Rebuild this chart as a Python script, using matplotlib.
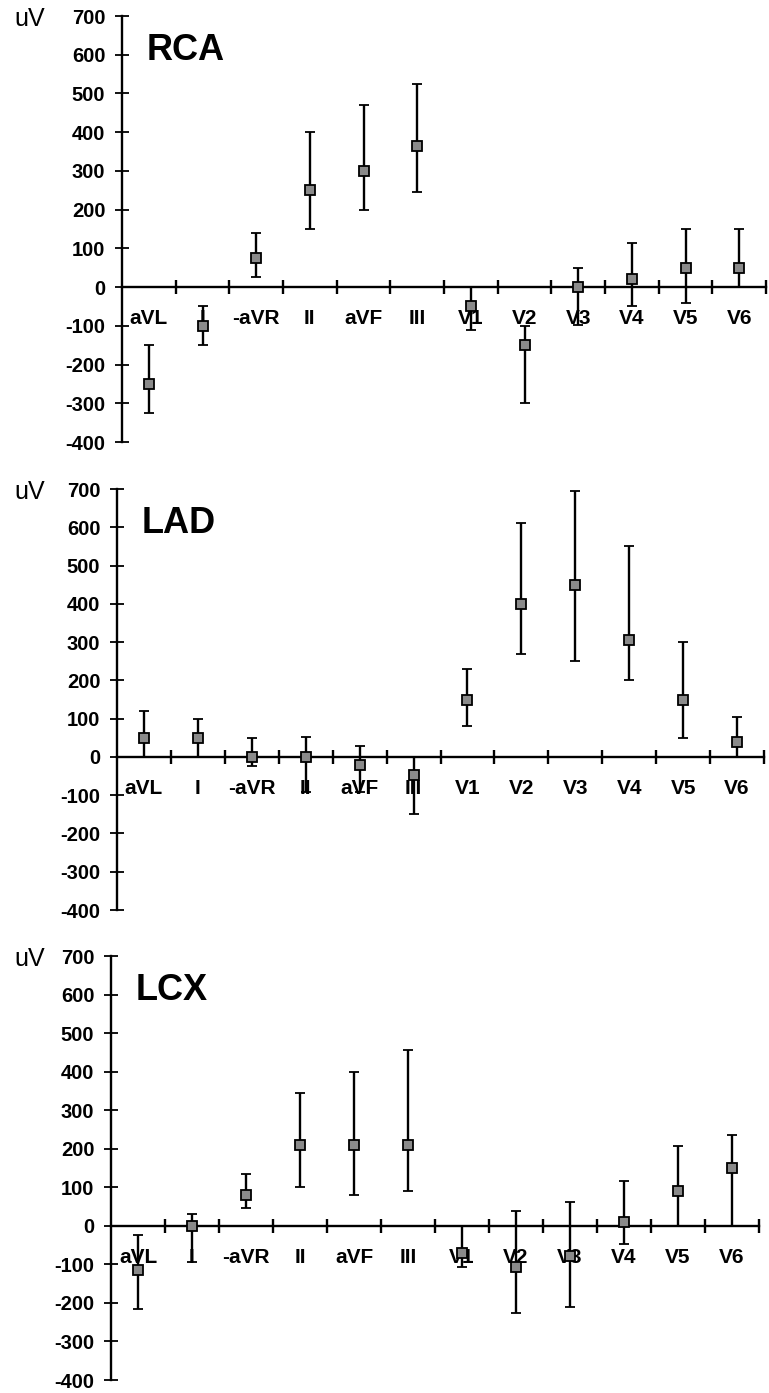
import matplotlib
matplotlib.use('Agg')
import matplotlib.pyplot as plt
import numpy as np

leads = ["aVL", "I", "-aVR", "II", "aVF", "III", "V1", "V2", "V3", "V4", "V5", "V6"]

rca_mean = [-250, -100, 75, 250, 300, 365, -50, -150, 0, 20, 50, 50]
rca_upper = [-150, -50, 140, 400, 470, 525, 0, -100, 50, 115, 150, 150]
rca_lower = [-325, -150, 25, 150, 200, 245, -110, -300, -98, -50, -40, 0]

lad_mean = [50, 50, 0, 0, -22, -48, 150, 400, 450, 305, 150, 40]
lad_upper = [120, 100, 50, 52, 28, 0, 230, 610, 695, 550, 300, 105]
lad_lower = [0, 0, -25, -92, -92, -150, 80, 270, 250, 200, 50, 0]

lcx_mean = [-115, 0, 80, 210, 210, 210, -70, -108, -78, 10, 90, 150]
lcx_upper = [-25, 30, 135, 345, 400, 455, 0, 38, 62, 115, 208, 235]
lcx_lower = [-215, -95, 45, 100, 80, 90, -107, -226, -211, -46, 0, 0]

titles = ["RCA", "LAD", "LCX"]
unit_label = "uV"
yticks = list(range(-400, 701, 100))

W, H = 769, 1393
fig = plt.figure(figsize=(W / 100, H / 100), dpi=100)
fig.patch.set_facecolor('white')

# panel geometry in pixels: (x_left, x_right, y_700, y_-400)
geoms = [(122, 766, 16, 442), (117, 764, 489, 910), (111, 759, 956, 1380)]
data = [(rca_mean, rca_upper, rca_lower),
        (lad_mean, lad_upper, lad_lower),
        (lcx_mean, lcx_upper, lcx_lower)]

font = 'Liberation Sans'

for (xl, xr, yt, yb), (m, up, lo), title in zip(geoms, data, titles):
    ax = fig.add_axes([xl / W, 1 - yb / H, (xr - xl) / W, (yb - yt) / H])
    ax.set_xlim(0, len(leads))
    ax.set_ylim(-400, 700)
    x = np.arange(len(leads)) + 0.5
    m = np.array(m, float)
    up = np.array(up, float)
    lo = np.array(lo, float)
    ax.errorbar(x, m, yerr=[m - lo, up - m], fmt='s', color='black',
                ecolor='black', elinewidth=1.7, capsize=3.5, capthick=1.7,
                markersize=6.5, markerfacecolor='#8a8a8a',
                markeredgecolor='black', markeredgewidth=1.3, zorder=5)
    for s in ['top', 'right']:
        ax.spines[s].set_visible(False)
    ax.spines['bottom'].set_position(('data', 0))
    ax.spines['left'].set_linewidth(1.7)
    ax.spines['bottom'].set_linewidth(1.7)
    ax.set_yticks(yticks)
    ax.set_yticklabels([str(v) for v in yticks], fontfamily=font,
                       fontweight='bold', fontsize=14.5)
    ax.tick_params(axis='y', direction='inout', length=10, width=1.3, pad=7)
    ax.set_xticks(np.arange(1, len(leads) + 1))
    ax.set_xticklabels([])
    ax.tick_params(axis='x', which='major', direction='inout', length=10,
                   width=1.7)
    ax.set_xticks(x, minor=True)
    ax.set_xticklabels(leads, minor=True, fontfamily=font,
                       fontweight='bold', fontsize=15)
    ax.tick_params(axis='x', which='minor', length=0, pad=16)
    for lab in ax.get_xticklabels(minor=True):
        lab.set_zorder(1)
    ax.text(25 / (xr - xl), 1 - 17 / (yb - yt), title, transform=ax.transAxes,
            fontfamily=font, fontweight='bold', fontsize=26,
            ha='left', va='top')
    fig.text(14 / W, 1 - (yt - 9) / H, unit_label, fontfamily=font,
             fontsize=18, ha='left', va='top')

fig.savefig('out.png', dpi=100, facecolor='white')
